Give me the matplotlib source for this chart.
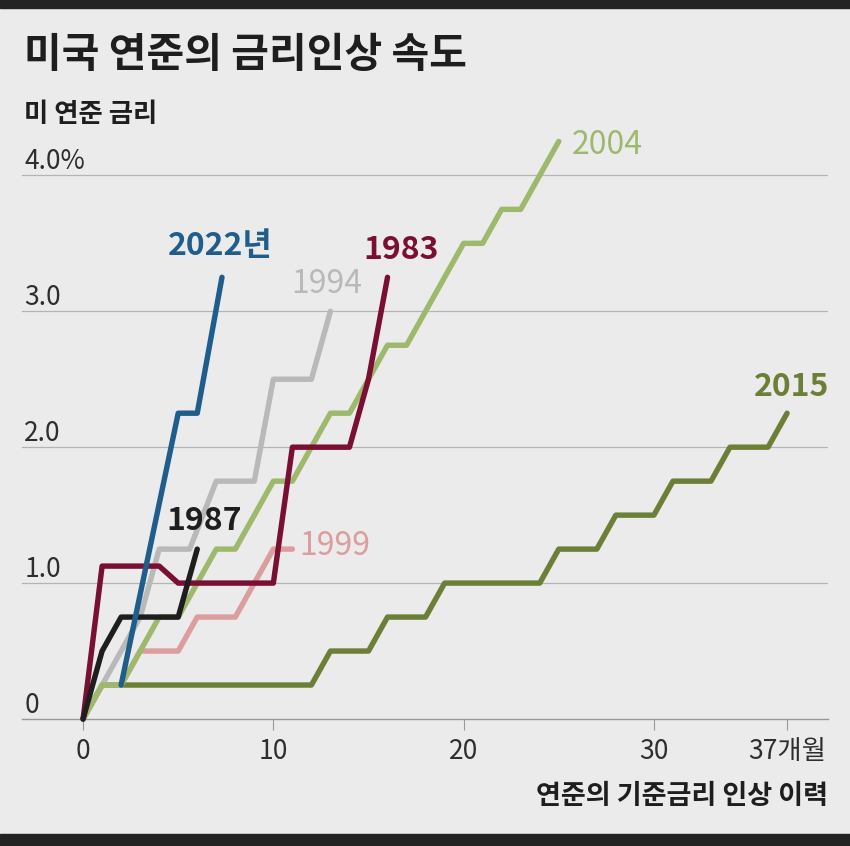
import matplotlib
matplotlib.use('Agg')
import matplotlib.pyplot as plt
import matplotlib.transforms as mtransforms
from matplotlib.patches import Rectangle

# 숫자/한글 모두 표시되도록 글꼴 목록 지정
plt.rcParams['font.family'] = ['Liberation Sans Narrow', 'Noto Sans CJK KR', 'DejaVu Sans']

# 인상 시작 후 개월 수 / 누적 인상폭(%p) - 그림에서 읽은 값
months_1983 = [0, 1, 4, 5, 10, 11, 14, 15, 16]
rate_1983 = [0, 1.125, 1.125, 1.0, 1.0, 2.0, 2.0, 2.5, 3.25]

months_2022 = [2, 5, 6, 7.3]
rate_2022 = [0.25, 2.25, 2.25, 3.25]

months_1987 = [0, 1, 2, 5, 6]
rate_1987 = [0, 0.5, 0.75, 0.75, 1.25]

months_1994 = [0, 1, 2, 3, 4, 5.6, 7, 9, 10, 12, 13]
rate_1994 = [0, 0.25, 0.5, 0.75, 1.25, 1.25, 1.75, 1.75, 2.5, 2.5, 3.0]

months_1999 = [0, 1, 2, 3, 5, 6, 8, 10, 11]
rate_1999 = [0, 0.25, 0.25, 0.5, 0.5, 0.75, 0.75, 1.25, 1.25]

months_2004 = list(range(26))
rate_2004 = [0, 0.25, 0.25, 0.5, 0.75, 0.75, 1.0, 1.25, 1.25, 1.5, 1.75, 1.75, 2.0,
             2.25, 2.25, 2.5, 2.75, 2.75, 3.0, 3.25, 3.5, 3.5, 3.75, 3.75, 4.0, 4.25]

months_2015 = [0, 1, 12, 13, 15, 16, 18, 19, 24, 25, 27, 28, 30, 31, 33, 34, 36, 37]
rate_2015 = [0, 0.25, 0.25, 0.5, 0.5, 0.75, 0.75, 1.0, 1.0, 1.25, 1.25, 1.5, 1.5,
             1.75, 1.75, 2.0, 2.0, 2.25]

x_ticks = [0, 10, 20, 30, 37]
x_tick_labels = ['0', '10', '20', '30', '37개월']
y_ticks = [0, 1, 2, 3, 4]
y_tick_labels = ['0', '1.0', '2.0', '3.0', '4.0%']

# (이름, x, y, 색, 굵기, 라벨 위치, 정렬) - 아래쪽부터 그림
series = [
    ('2015', months_2015, rate_2015, '#6b7f37', 'bold', (37.25, 2.44), 'center'),
    ('1999', months_1999, rate_1999, '#dc9d9e', 'normal', (11.35, 1.27), 'left'),
    ('1994', months_1994, rate_1994, '#b9b9b9', 'normal', (12.8, 3.2), 'center'),
    ('2004', months_2004, rate_2004, '#9fb96c', 'normal', (25.7, 4.22), 'left'),
    ('1983', months_1983, rate_1983, '#7a0f34', 'bold', (16.7, 3.45), 'center'),
    ('1987', months_1987, rate_1987, '#1e1e1e', 'bold', (6.35, 1.46), 'center'),
    ('2022년', months_2022, rate_2022, '#1f5e8c', 'bold', (7.2, 3.48), 'center'),
]

bg = '#ebebeb'
fig = plt.figure(figsize=(8.5, 8.46), dpi=100, facecolor=bg)
ax = fig.add_axes([22 / 850, 1 - 719 / 846, 806 / 850, 598 / 846])
ax.set_facecolor(bg)
ax.set_xlim(-3.21, 39.15)
ax.set_ylim(0, 4.4)
for s in ax.spines.values():
    s.set_visible(False)

# 격자선
for y in y_ticks[1:]:
    ax.axhline(y, color='#b4b4b4', lw=0.9, zorder=1)
ax.axhline(0, color='#999999', lw=1.0, zorder=1, clip_on=False)

# y축 라벨은 격자선 위 왼쪽에
trans = mtransforms.blended_transform_factory(ax.transAxes, ax.transData)
for y, lab in zip(y_ticks, y_tick_labels):
    ax.text(0.003, y + 0.045, lab, transform=trans, va='baseline', ha='left',
            fontsize=19, color='#2e2e2e')
ax.set_yticks([])

ax.set_xticks(x_ticks, x_tick_labels)
ax.tick_params(axis='x', length=8, width=0.8, color='#999999', pad=6,
               labelsize=19, labelcolor='#2e2e2e')

for i, (name, xs, ys, col, wt, pos, ha) in enumerate(series):
    ax.plot(xs, ys, color=col, lw=3.9, solid_capstyle='round',
            zorder=3 + i, clip_on=False)
    ax.text(pos[0], pos[1], name, color=col, fontsize=23, fontweight=wt,
            ha=ha, va='center', zorder=20)

# 제목, 축 설명
fig.text(24 / 850, 1 - 55 / 846, '미국 연준의 금리인상 속도', fontsize=29.5,
         fontweight='bold', va='center', ha='left', color='#1e1e1e')
fig.text(24 / 850, 1 - 114 / 846, '미 연준 금리', fontsize=19,
         fontweight='bold', va='center', ha='left', color='#1e1e1e')
fig.text(828 / 850, 1 - 796 / 846, '연준의 기준금리 인상 이력', fontsize=19.5,
         fontweight='bold', va='center', ha='right', color='#1e1e1e')

# 위아래 어두운 띠
fig.add_artist(Rectangle((0, 1 - 8 / 846), 1, 8 / 846, transform=fig.transFigure,
                         color='#232323', zorder=0))
fig.add_artist(Rectangle((0, 0), 1, 12 / 846, transform=fig.transFigure,
                         color='#232323', zorder=0))

fig.savefig('out.png', dpi=100, facecolor=bg)
